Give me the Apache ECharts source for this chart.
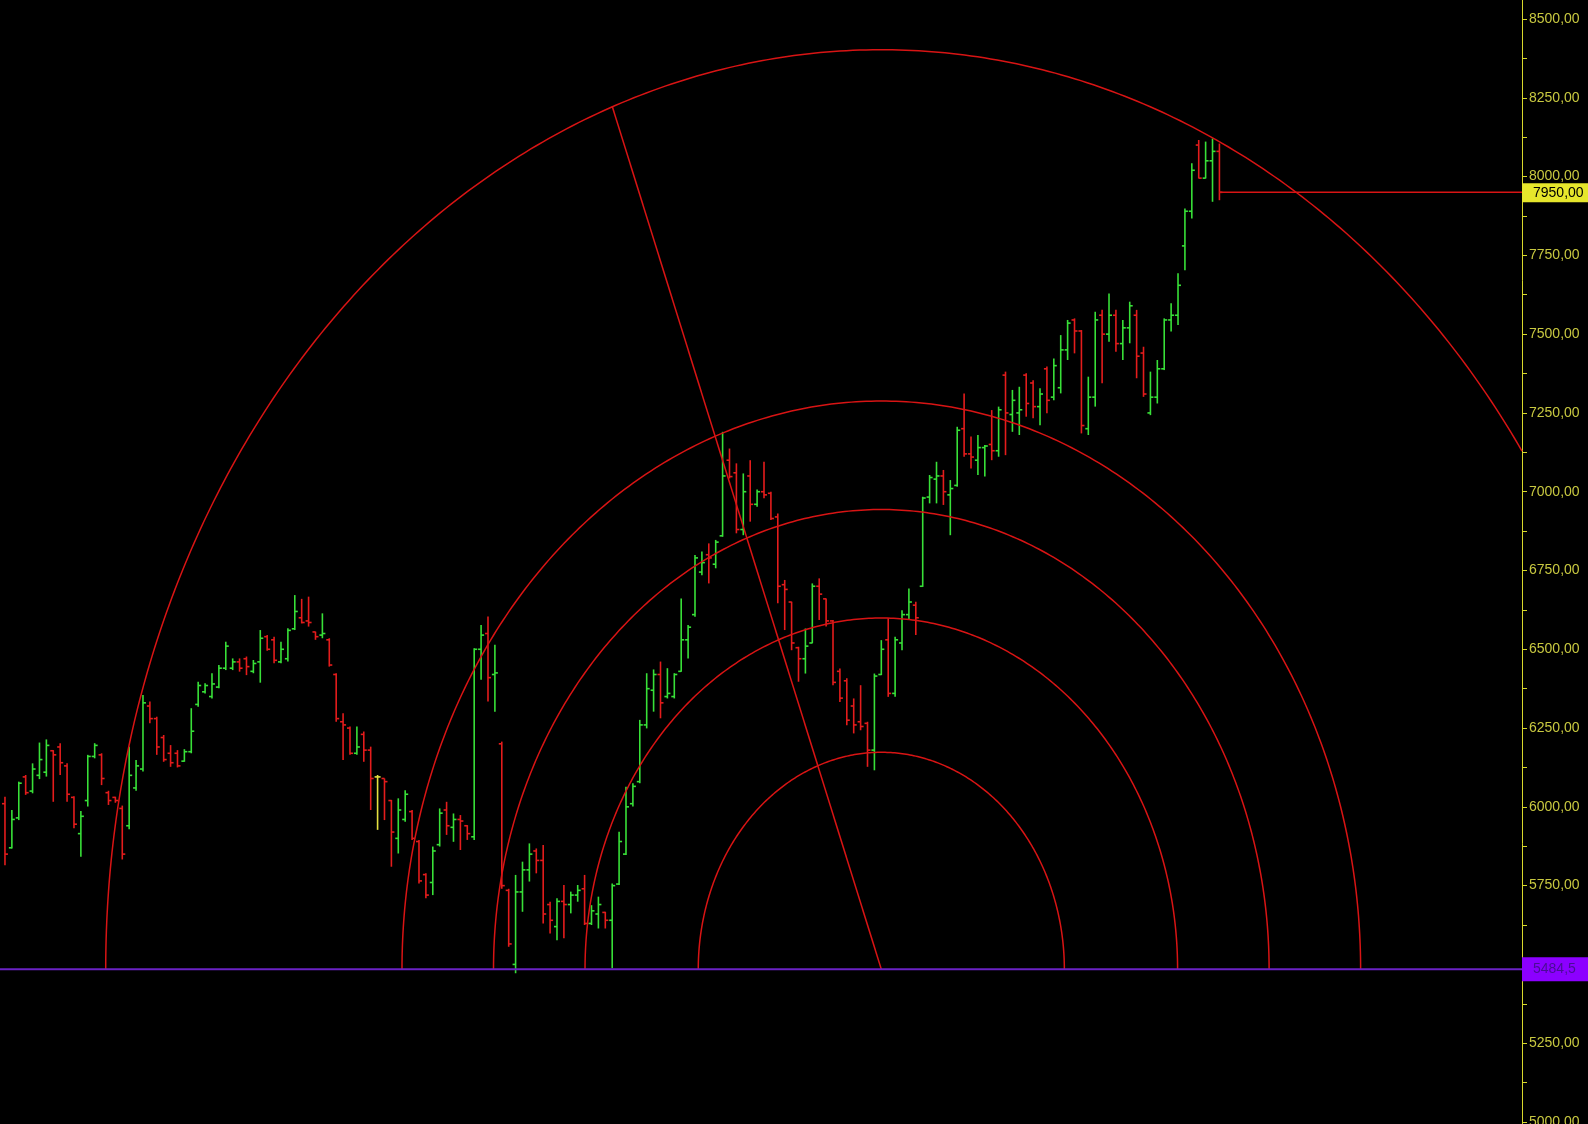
<!DOCTYPE html>
<html>
<head>
<meta charset="utf-8">
<script src="https://cdn.jsdelivr.net/npm/echarts@6/dist/echarts.min.js"></script>
<style>
html,body{margin:0;padding:0;background:#000;}
#c{width:1588px;height:1124px;}
</style>
</head>
<body>
<div id="c"></div>
<script>
// ---- OHLC data (one entry per bar, left to right) ----
const opens = [
6010,5870,5965,6095,6050,6100,6110,6178,6190,6130,
6030,5915,6020,6160,6165,6045,6030,5995,5940,6060,
6120,6320,6280,6220,6170,6170,6145,6175,6325,6365,
6350,6380,6440,6440,6460,6470,6430,6460,6540,6530,
6460,6470,6565,6600,6590,6555,6545,6530,6420,6270,
6250,6170,6230,6180,6095,6090,6020,5900,5960,5985,
5890,5785,5760,5880,5990,5935,5960,5940,5905,6500,
6550,6420,6200,5735,5500,5730,5800,5860,5830,5690,
5620,5700,5690,5720,5740,5630,5660,5665,5640,5755,
5850,6010,6080,6260,6370,6420,6350,6350,6430,6530,
6610,6745,6800,6770,6860,7100,7060,6880,7050,6960,
7000,6995,6920,6705,6650,6505,6470,6520,6700,6660,
6590,6430,6400,6320,6270,6265,6180,6420,6530,6360,
6520,6610,6640,6700,6983,7040,7050,6990,7020,7200,
7120,7100,7140,7150,7130,7370,7245,7250,7370,7345,
7270,7390,7300,7330,7450,7545,7510,7200,7300,7560,
7500,7560,7470,7520,7560,7440,7250,7300,7390,7545,
7560,7780,7890,8100,7995,8050,8080
];
const highs = [
6032,5990,6080,6101,6138,6204,6214,6180,6202,6138,
6034,5987,6165,6202,6170,6051,6032,6004,6191,6149,
6355,6334,6286,6228,6196,6180,6183,6313,6397,6392,
6424,6450,6524,6471,6471,6477,6466,6561,6545,6540,
6524,6567,6672,6660,6667,6556,6614,6535,6424,6297,
6255,6255,6239,6191,6101,6090,6022,6027,6053,5990,
5895,5789,5874,5995,6016,5979,5974,5942,6503,6577,
6604,6514,6207,5740,5784,5826,5884,5868,5879,5699,
5710,5752,5731,5752,5784,5688,5715,5667,5757,5921,
6064,6075,6276,6424,6436,6461,6440,6424,6661,6577,
6799,6810,6836,6847,7190,7137,7090,7058,7100,7007,
7095,7000,6931,6720,6651,6508,6566,6709,6725,6661,
6593,6439,6408,6344,6386,6270,6423,6529,6598,6540,
6624,6693,6651,6984,7053,7095,7069,7037,7206,7312,
7175,7180,7148,7259,7270,7381,7323,7333,7376,7354,
7328,7397,7423,7497,7545,7550,7513,7365,7571,7577,
7629,7577,7545,7603,7577,7460,7381,7418,7550,7598,
7693,7899,8042,8116,8111,8121,8105
];
const lows = [
5815,5868,5958,6038,6043,6088,6096,6016,6101,6016,
5932,5842,6001,6154,6069,6006,6013,5833,5929,6051,
6112,6265,6165,6143,6127,6125,6143,6170,6318,6360,
6344,6376,6434,6434,6429,6418,6424,6394,6495,6456,
6456,6461,6561,6582,6572,6530,6535,6445,6270,6149,
6165,6165,6143,5990,5927,5958,5810,5852,5953,5895,
5757,5710,5720,5874,5911,5889,5863,5895,5895,6403,
6334,6302,5740,5556,5472,5667,5763,5789,5630,5598,
5577,5583,5662,5699,5625,5625,5614,5614,5488,5752,
5847,6001,6075,6249,6302,6281,6344,6344,6429,6471,
6603,6735,6709,6757,6857,7042,6868,6862,6905,6952,
6979,6910,6646,6561,6497,6397,6423,6519,6593,6572,
6386,6333,6259,6233,6243,6127,6116,6418,6349,6349,
6497,6593,6545,6698,6963,6963,6958,6862,7016,7111,
7074,7053,7048,7100,7111,7116,7190,7180,7238,7233,
7211,7249,7290,7312,7418,7439,7185,7180,7270,7344,
7476,7444,7418,7471,7360,7301,7243,7280,7386,7508,
7529,7703,7867,7994,7994,7920,7925
];
const closes = [
5850,5960,6075,6045,6120,6150,6195,6165,6140,6040,
5945,5970,6160,6195,6090,6020,6020,5850,6100,6130,
6330,6280,6190,6150,6140,6130,6175,6240,6385,6385,
6390,6440,6510,6460,6440,6445,6455,6535,6500,6465,
6500,6560,6620,6585,6585,6540,6550,6450,6280,6260,
6170,6190,6180,6090,6095,6080,5920,5990,6040,5900,
5765,5720,5860,5980,5940,5960,5955,5915,6500,6545,
6410,6425,5750,5565,5730,5800,5850,5830,5660,5640,
5700,5690,5720,5735,5630,5670,5690,5640,5750,5890,
6000,6065,6260,6375,6420,6330,6360,6420,6530,6570,
6790,6775,6790,6840,7050,7048,6880,7000,6960,7000,
6990,6915,6700,6690,6520,6470,6510,6700,6675,6590,
6395,6345,6275,6260,6255,6180,6415,6500,6360,6530,
6610,6650,6600,6980,7045,7050,7000,7010,7195,7120,
7110,7140,7145,7130,7260,7250,7290,7260,7280,7270,
7310,7290,7400,7450,7535,7510,7210,7300,7545,7500,
7560,7470,7520,7590,7430,7310,7300,7390,7545,7560,
7655,7890,8020,7995,8050,8080,7950
];

// ---- Drawing annotations (in data units) ----
const arcCenter = [127, 5484.5];      // bar index, price
const arcAnchor = [88, 8223];         // radial line end point on the outer arc
const arcRadiusBars = 112.4;          // horizontal radius of the 1.0 arc, in bars
const arcRadiusPrice = 2918;          // vertical radius of the 1.0 arc, in price
const fibLevels = [0.236, 0.382, 0.5, 0.618, 1];
const baseLevel = 5484.5;
const lastLevel = 7950;
const lastBar = 176;

// ---- Price axis ----
const yMin = 4993.6, yMax = 8560.3;
const yLabelValues = [5000, 5250, 5500, 5750, 6000, 6250, 6500, 6750, 7000, 7250, 7500, 7750, 8000, 8250, 8500];
const yTickValues = [5000, 5125, 5250, 5375, 5500, 5625, 5750, 5875, 6000, 6125, 6250, 6375, 6500, 6625,
  6750, 6875, 7000, 7125, 7250, 7375, 7500, 7625, 7750, 7875, 8000, 8125, 8250, 8375, 8500];
const X_MIN = -0.72, X_MAX = 219.85;

const GREEN = '#38e038', RED = '#e41c1c', DOJI = '#e4e040';
const ARC = '#d81414', AXIS = '#d8d82c', LABEL = '#c8c840';

const bars = opens.map((o, i) => [i, o, highs[i], lows[i], closes[i]]);

const chart = echarts.init(document.getElementById('c'));
chart.setOption({
  backgroundColor: '#000',
  animation: false,
  grid: { left: 0, right: 66, top: 0, bottom: 0, containLabel: false, outerBoundsMode: 'none' },
  xAxis: { type: 'value', min: X_MIN, max: X_MAX, show: false },
  yAxis: {
    type: 'value', position: 'right', min: yMin, max: yMax,
    axisLine: { show: true, onZero: false, lineStyle: { color: AXIS, width: 1 } },
    axisTick: { show: true, length: 5, customValues: yTickValues, lineStyle: { color: AXIS } },
    splitLine: { show: false },
    axisLabel: {
      color: LABEL, fontSize: 14, fontFamily: 'Liberation Sans, Arial, sans-serif', margin: 7,
      customValues: yLabelValues, showMinLabel: true, showMaxLabel: true,
      formatter: v => v.toFixed(2).replace('.', ',')
    }
  },
  series: [
    {
      type: 'custom', name: 'bars', z: 2,
      data: bars, encode: { x: 0, y: [1, 2, 3, 4] },
      renderItem: function (params, api) {
        const i = api.value(0), o = api.value(1), h = api.value(2), l = api.value(3), c = api.value(4);
        const pt = api.coord([i, h]), pb = api.coord([i, l]);
        const po = api.coord([i, o]), pc = api.coord([i, c]);
        const color = c > o ? GREEN : (c < o ? RED : DOJI);
        const x = pt[0];
        const st = { stroke: color, lineWidth: 1.6 };
        return {
          type: 'group', children: [
            { type: 'line', shape: { x1: x, y1: pt[1], x2: x, y2: pb[1] }, style: st },
            { type: 'line', shape: { x1: x - 3, y1: po[1], x2: x, y2: po[1] }, style: st },
            { type: 'line', shape: { x1: x, y1: pc[1], x2: x + 3, y2: pc[1] }, style: st }
          ]
        };
      }
    },
    {
      type: 'custom', name: 'arcs', z: 3,
      data: [[arcCenter[0], arcCenter[1]]], encode: { x: 0, y: 1 },
      renderItem: function (params, api) {
        const children = [];
        const cx = arcCenter[0], cy = arcCenter[1];
        fibLevels.forEach(f => {
          const rx = arcRadiusBars * f, ry = arcRadiusPrice * f;
          let t0 = 0;
          if (cx + rx > X_MAX) t0 = Math.acos((X_MAX - cx) / rx);
          const pts = [];
          const N = 300;
          for (let k = 0; k <= N; k++) {
            const t = t0 + (Math.PI - t0) * k / N;
            pts.push(api.coord([cx + rx * Math.cos(t), cy + ry * Math.sin(t)]));
          }
          children.push({ type: 'polyline', shape: { points: pts }, style: { stroke: ARC, lineWidth: 1.5, fill: 'none' } });
        });
        const p0 = api.coord(arcCenter), p1 = api.coord(arcAnchor);
        children.push({ type: 'line', shape: { x1: p0[0], y1: p0[1], x2: p1[0], y2: p1[1] }, style: { stroke: ARC, lineWidth: 1.5 } });
        return { type: 'group', children };
      }
    },
    {
      type: 'custom', name: 'levels', z: 5,
      data: [[lastBar, lastLevel]], encode: { x: 0, y: 1 },
      renderItem: function (params, api) {
        const cs = params.coordSys;
        const left = cs.x, right = cs.x + cs.width;
        const yb = api.coord([X_MIN, baseLevel])[1];
        const yl = api.coord([X_MIN, lastLevel])[1];
        const xl = api.coord([lastBar, lastLevel])[0];
        const font = 'Liberation Sans, Arial, sans-serif';
        return {
          type: 'group', children: [
            { type: 'line', shape: { x1: left, y1: yb, x2: right, y2: yb }, style: { stroke: '#6a22c4', lineWidth: 2 } },
            { type: 'line', shape: { x1: xl, y1: yl, x2: right, y2: yl }, style: { stroke: ARC, lineWidth: 1.5 } },
            { type: 'rect', shape: { x: right, y: yl - 9, width: 70, height: 19 }, style: { fill: '#e6e62c' } },
            { type: 'text', style: { text: lastLevel.toFixed(2).replace('.', ','), x: right + 11, y: yl + 1, verticalAlign: 'middle', fill: '#000', fontSize: 14, fontFamily: font } },
            { type: 'rect', shape: { x: right, y: yb - 12, width: 70, height: 24 }, style: { fill: '#8c00ff' } },
            { type: 'text', style: { text: String(baseLevel).replace('.', ','), x: right + 11, y: yb, verticalAlign: 'middle', fill: '#4a0c96', fontSize: 14, fontFamily: font } }
          ]
        };
      }
    }
  ]
});
</script>
</body>
</html>
